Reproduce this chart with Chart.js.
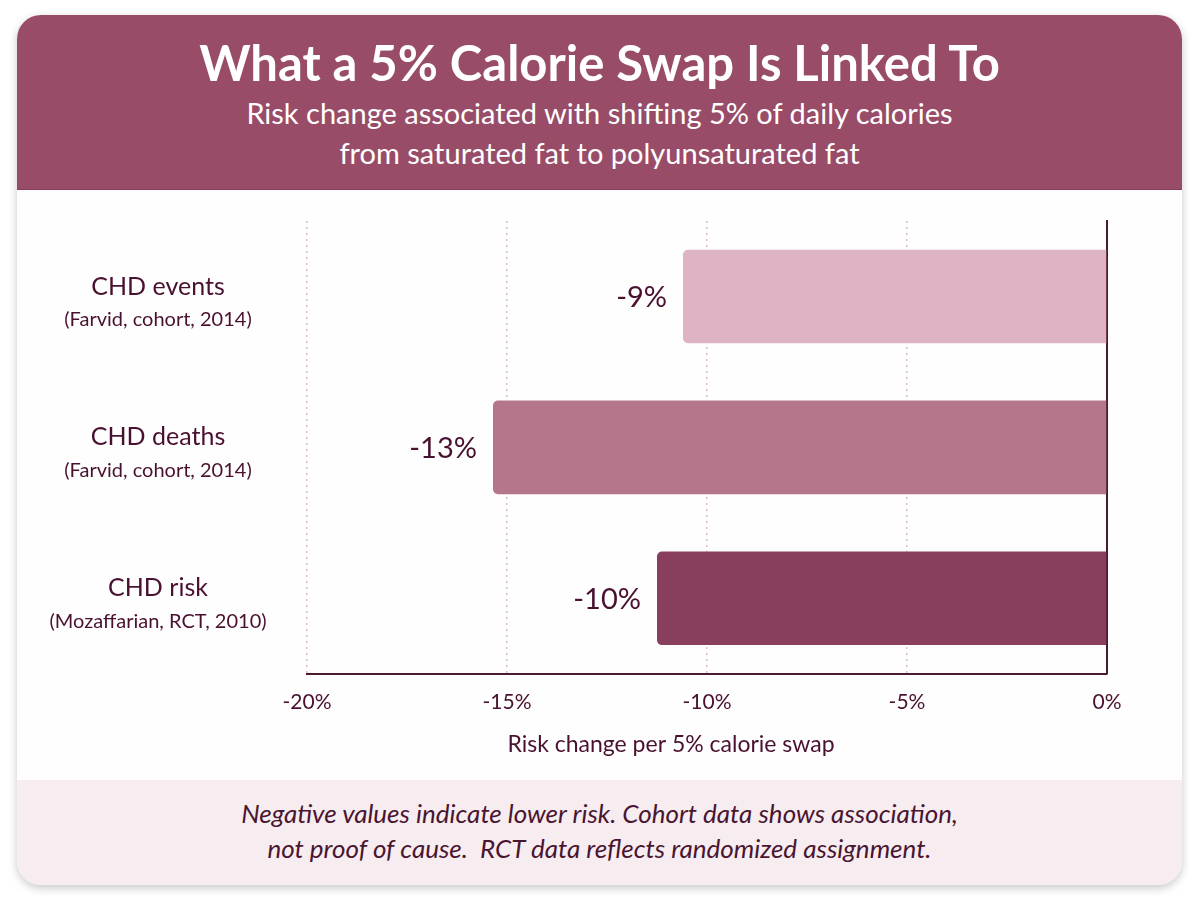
<!DOCTYPE html>
<html>
<head>
<meta charset="utf-8">
<script src="https://cdn.jsdelivr.net/npm/chart.js@4.4.1/dist/chart.umd.min.js"></script>
<style>
  html, body { margin: 0; padding: 0; background: #ffffff; }
  body { width: 1200px; height: 900px; position: relative; font-family: Lato, 'Open Sans', sans-serif; }
  .card {
    position: absolute; left: 17px; top: 15px; width: 1165px; height: 870px;
    border-radius: 24px; overflow: hidden; background: #fefefe;
    box-shadow: 0 3px 10px rgba(0, 0, 0, 0.22);
  }
  .header {
    height: 175px; background: #984c68; color: #ffffff; text-align: center;
    border-bottom: 1px solid #8a3e5c; box-sizing: border-box;
  }
  .header h1 { margin: 0; padding-top: 19px; font-size: 49px; line-height: 56px; font-weight: 700; }
  .header p { margin: 3px 0 0 0; font-size: 29px; line-height: 40px; }
  .plot { position: relative; height: 590px; }
  .footer {
    height: 105px; background: #f7edf1; color: #4a1530; text-align: center;
    font-style: italic; font-size: 26px; line-height: 35px; padding-top: 16px; box-sizing: border-box;
  }
</style>
</head>
<body>
<div class="card">
  <div class="header">
    <h1>What a 5% Calorie Swap Is Linked To</h1>
    <p>Risk change associated with shifting 5% of daily calories<br>from saturated fat to polyunsaturated fat</p>
  </div>
  <div class="plot"><canvas id="swapChart" width="1165" height="590"></canvas></div>
  <div class="footer">
    Negative values indicate lower risk. Cohort data shows association,<br>not proof of cause.&nbsp; RCT data reflects randomized assignment.
  </div>
</div>

<script>
// data
const categories = ['CHD events', 'CHD deaths', 'CHD risk'];
const sources = ['(Farvid, cohort, 2014)', '(Farvid, cohort, 2014)', '(Mozaffarian, RCT, 2010)'];
const barValues = [-10.6, -15.35, -11.25];
const valueLabels = ['-9%', '-13%', '-10%'];
const xTicks = [-20, -15, -10, -5, 0];
const axisTitle = 'Risk change per 5% calorie swap';

const barColors = ['#deb3c3', '#b5768c', '#8a3e5e'];
const textColor = '#4a1030';

document.addEventListener('DOMContentLoaded', function() {
  renderChart();
});

function renderChart() {
  const ctx = document.getElementById('swapChart').getContext('2d');

  // category names + sources on the left, value labels left of each bar, axis title
  const labelPlugin = {
    id: 'labelPlugin',
    afterDatasetsDraw(chart) {
      const ctx = chart.ctx;
      const yScale = chart.scales.y;
      const area = chart.chartArea;
      ctx.save();
      ctx.fillStyle = textColor;
      ctx.textBaseline = 'middle';

      categories.forEach((name, i) => {
        const y = yScale.getPixelForValue(i);
        const x = area.left - 149;
        ctx.textAlign = 'center';
        ctx.font = '25px Lato, sans-serif';
        ctx.fillText(name, x, y - 10);
        ctx.font = '20px Lato, sans-serif';
        ctx.fillText(sources[i], x, y + 23);
      });

      const meta = chart.getDatasetMeta(0);
      meta.data.forEach((bar, i) => {
        ctx.textAlign = 'right';
        ctx.font = '29px Lato, sans-serif';
        ctx.fillText(valueLabels[i], bar.x - 16, bar.y + 1);
      });

      // axis title sits a little left of the plot centre in the reference
      ctx.textAlign = 'center';
      ctx.font = '23px Lato, sans-serif';
      ctx.fillText(axisTitle, area.left + (area.right - area.left) * 0.455, area.bottom + 71);
      ctx.restore();
    }
  };

  const data = {
    labels: categories,
    datasets: [{
      data: barValues,
      backgroundColor: barColors,
      borderWidth: 0,
      borderRadius: 5,
      borderSkipped: 'start',
      barPercentage: 0.62,
      categoryPercentage: 1
    }]
  };

  const options = {
    indexAxis: 'y',
    responsive: false,
    animation: false,
    layout: {
      padding: { top: 31, left: 290, right: 75, bottom: 49 }
    },
    scales: {
      x: {
        min: -20,
        max: 0,
        afterBuildTicks: function(scale) {
          scale.ticks = xTicks.map(v => ({ value: v }));
        },
        ticks: {
          callback: function(value) { return value + '%'; },
          color: textColor,
          padding: 16,
          font: { family: 'Lato', size: 21 }
        },
        grid: {
          color: '#dfb9c8',
          lineWidth: 1.5,
          drawTicks: false
        },
        border: { display: true, color: '#4a1a30', width: 2, dash: [2, 4] }
      },
      y: {
        position: 'right',
        ticks: { display: false },
        grid: { display: false, drawTicks: false },
        border: { display: true, color: '#4a1a30', width: 2 }
      }
    },
    plugins: {
      legend: { display: false },
      tooltip: { enabled: false }
    }
  };

  window.swapChart = new Chart(ctx, {
    type: 'bar',
    data: data,
    options: options,
    plugins: [labelPlugin]
  });
}
</script>
</body>
</html>
